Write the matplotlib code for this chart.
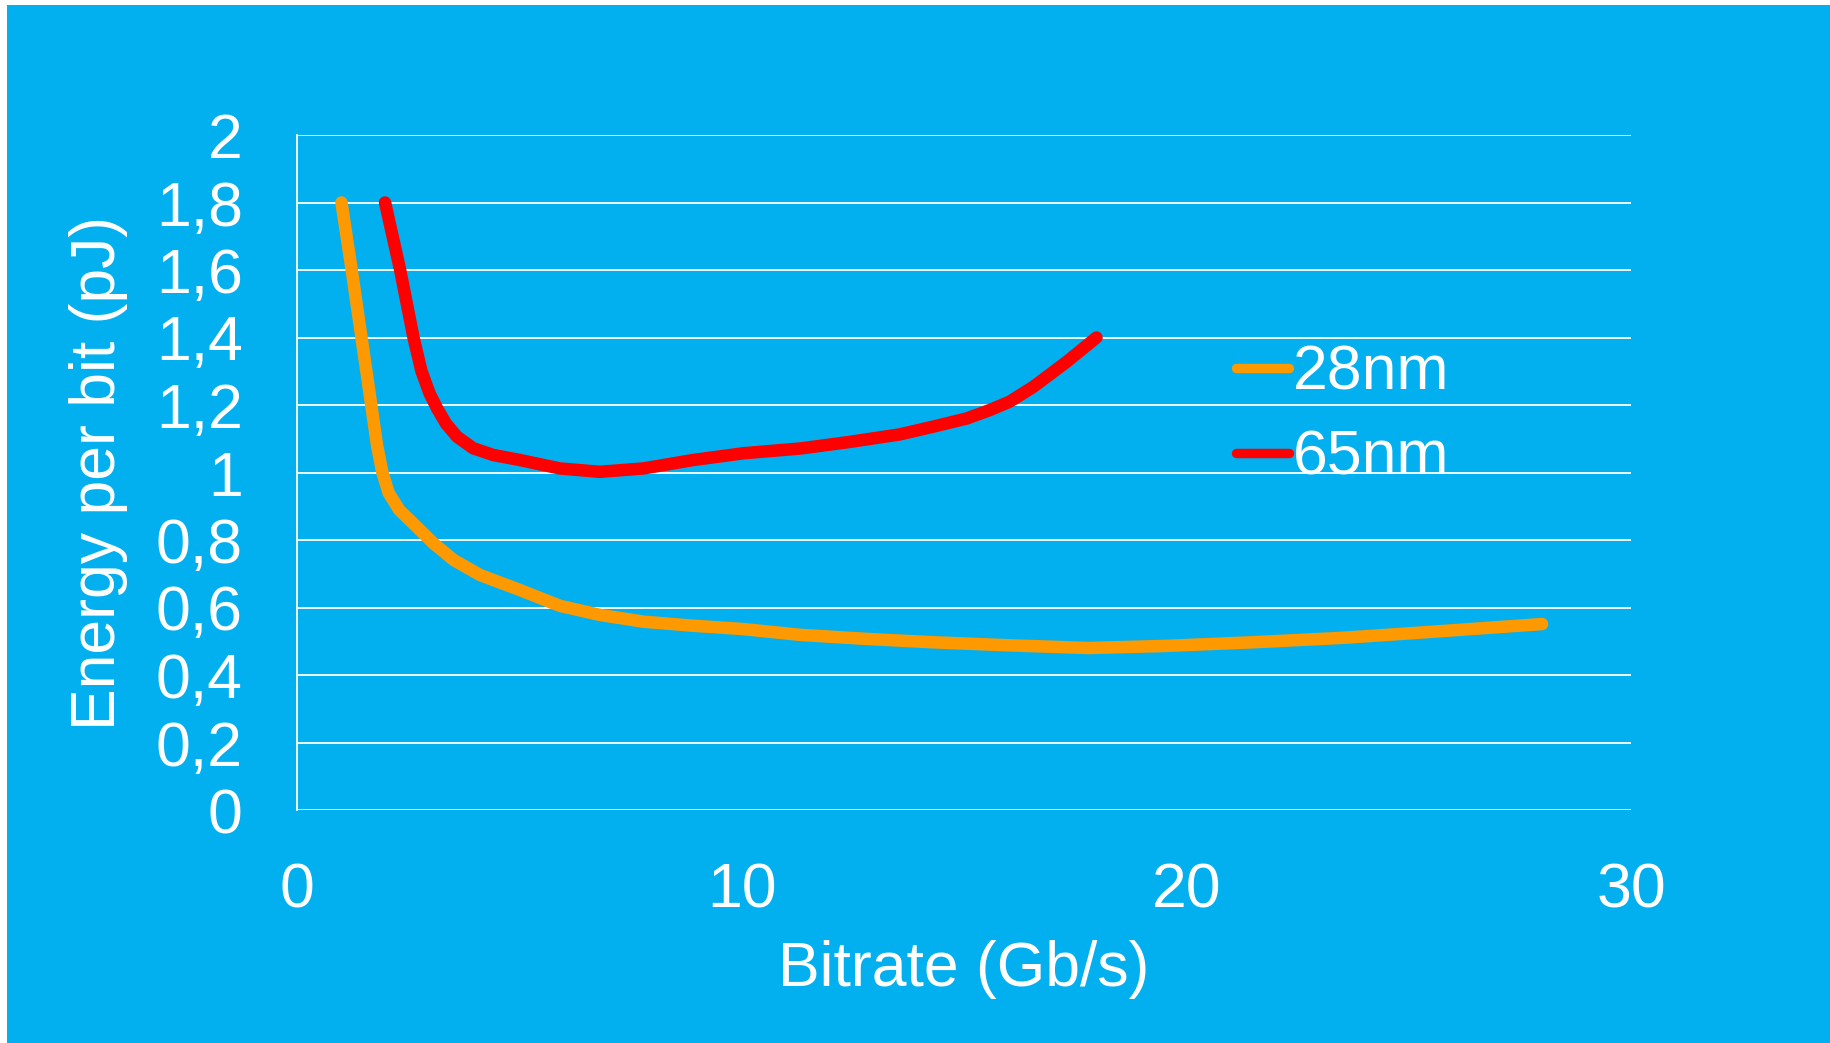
import matplotlib
matplotlib.use("Agg")
import matplotlib.pyplot as plt
from matplotlib.patches import Rectangle
from matplotlib.lines import Line2D

# -------------------------------------------------
# Data
# -------------------------------------------------
x_28nm = [1.0, 1.23, 1.45, 1.67, 1.80, 1.92, 2.06, 2.30, 2.69, 3.07, 3.52,
          4.12, 5.01, 5.91, 6.81, 7.79, 8.91, 10.04, 11.31, 12.8, 14.3, 16.0,
          17.8, 19.5, 21.5, 23.5, 25.3, 28.0]
y_28nm = [1.80, 1.60, 1.40, 1.20, 1.08, 1.00, 0.94, 0.889, 0.839, 0.790,
          0.741, 0.696, 0.652, 0.605, 0.578, 0.558, 0.546, 0.536, 0.519, 0.507,
          0.497, 0.488, 0.480, 0.486, 0.497, 0.510, 0.526, 0.551]

x_65nm = [1.98, 2.32, 2.62, 2.80, 2.98, 3.15, 3.35, 3.60, 3.96, 4.41, 5.01,
          5.91, 6.81, 7.79, 8.91, 10.04, 11.31, 12.4, 13.56, 14.31, 15.06,
          15.58, 16.03, 16.56, 17.31, 17.98]
y_65nm = [1.80, 1.60, 1.40, 1.30, 1.235, 1.19, 1.145, 1.106, 1.072, 1.052,
          1.037, 1.012, 1.002, 1.012, 1.037, 1.057, 1.071, 1.09, 1.113, 1.136,
          1.16, 1.185, 1.21, 1.254, 1.328, 1.40]

y_ticks = [0, 0.2, 0.4, 0.6, 0.8, 1.0, 1.2, 1.4, 1.6, 1.8, 2.0]
y_tick_labels = ["0", "0,2", "0,4", "0,6", "0,8", "1", "1,2", "1,4", "1,6", "1,8", "2"]
x_ticks = [0, 10, 20, 30]
x_tick_labels = ["0", "10", "20", "30"]

# -------------------------------------------------
# Style
# -------------------------------------------------
BG = "#02B0F0"
ORANGE = "#FF9900"
RED = "#FF0000"
FS = 45

plt.rcParams["font.family"] = ["Liberation Sans", "DejaVu Sans"]

fig = plt.figure(figsize=(18.3, 10.43), dpi=100)
fig.patch.set_facecolor("white")
fig.patches.append(Rectangle((7 / 1830, 0), 1, 1 - 5 / 1043,
                             transform=fig.transFigure, facecolor=BG,
                             edgecolor="none", zorder=-10))

ax = fig.add_axes([297 / 1830, 1 - 810 / 1043, 1334 / 1830, 675 / 1043])
ax.set_facecolor("none")

ax.plot(x_28nm, y_28nm, color=ORANGE, lw=9.0, solid_capstyle="round",
        solid_joinstyle="round", zorder=3)
ax.plot(x_65nm, y_65nm, color=RED, lw=9.0, solid_capstyle="round",
        solid_joinstyle="round", zorder=3)

ax.set_xlim(0, 30)
ax.set_ylim(0, 2)
ax.set_yticks(y_ticks, y_tick_labels)
ax.set_xticks(x_ticks, x_tick_labels)
ax.tick_params(axis="both", length=0, colors="white", labelsize=FS)
ax.tick_params(axis="y", pad=39)
ax.tick_params(axis="x", pad=37)

ax.grid(axis="y", color="white", lw=1.3, zorder=1)
for side in ["top", "right", "bottom"]:
    ax.spines[side].set_visible(False)
ax.spines["left"].set_color("white")
ax.spines["left"].set_linewidth(1.3)

ax.set_xlabel("Bitrate (Gb/s)", fontsize=FS, color="white", labelpad=14)
ax.set_ylabel("Energy per bit (pJ)", fontsize=FS, color="white", labelpad=20)

handles = [Line2D([], [], color=ORANGE, lw=6.8, solid_capstyle="round"),
           Line2D([], [], color=RED, lw=6.8, solid_capstyle="round")]
leg = ax.legend(handles, ["28nm", "65nm"], loc="center left",
                bbox_to_anchor=(0.704, 0.584), frameon=False, fontsize=FS,
                handlelength=0.85, handletextpad=0.05, labelspacing=0.42,
                borderpad=0, borderaxespad=0)
for t in leg.get_texts():
    t.set_color("white")

fig.savefig("out.png", dpi=100, facecolor=fig.get_facecolor())
